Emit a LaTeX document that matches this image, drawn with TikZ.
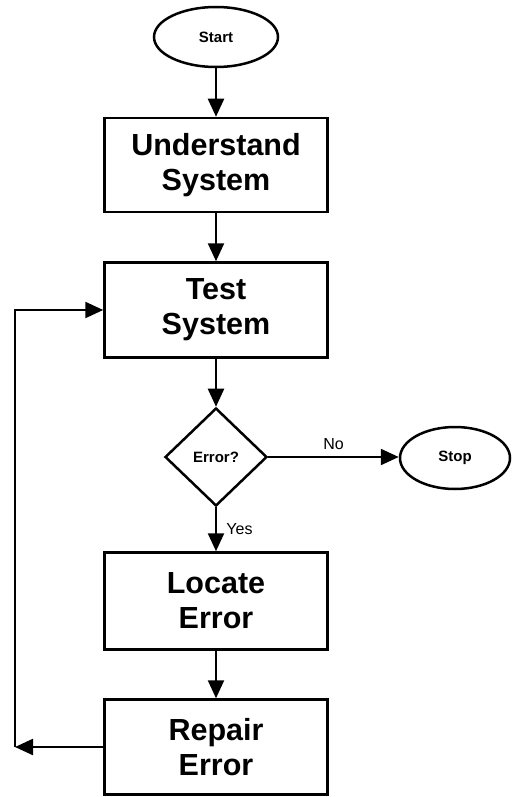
\documentclass[tikz,border=0pt]{standalone}
\usepackage{fontspec}
\setmainfont{Liberation Sans}
\usetikzlibrary{shapes.geometric,arrows.meta}
\begin{document}
\begin{tikzpicture}[x=1pt,y=-1pt,
  shapeline/.style={draw=black,line width=2.5pt},
  procbox/.style={shapeline,rectangle,minimum width=223pt,inner sep=0pt,align=center,
     font=\fontsize{30.5}{35}\selectfont\bfseries},
  terminal/.style={shapeline,ellipse,inner sep=0pt,font=\fontsize{15}{18}\selectfont\bfseries},
  decision/.style={shapeline,diamond,inner sep=0pt,minimum width=102pt,minimum height=98pt,
     font=\fontsize{15}{18}\selectfont\bfseries},
  conn/.style={draw=black,line width=2.3pt},
  arr/.style={conn,-{Triangle[length=18pt,width=16pt]}},
  lbl/.style={font=\fontsize{16}{19}\selectfont}
]
\useasboundingbox (0,0) rectangle (513,797);

\node[terminal,minimum width=124pt,minimum height=60pt] (start) at (216,37) {Start};
\node[procbox,minimum height=94pt] (understand) at (216,165) {Understand\\System};
\node[procbox,minimum height=95pt] (test) at (216,310) {Test\\System};
\node[decision] (err) at (216,457) {Error?};
\node[terminal,minimum width=110pt,minimum height=62pt] (stop) at (455,458) {Stop};
\node[procbox,minimum height=97pt] (locate) at (216,601) {Locate\\Error};
\node[procbox,minimum height=95pt] (repair) at (216,747) {Repair\\Error};

\coordinate (fbB) at (15,747);
\coordinate (fbT) at (15,310);

\draw[arr] (start) -- (understand);
\draw[arr] (understand) -- (test);
\draw[arr] (test) -- (err);
\draw[arr] (err.east) -- (err.east -| stop.west) node[lbl,midway,above=3pt] {No};
\draw[arr] (err.south) -- (locate.north) node[lbl,midway,right=6pt] {Yes};
\draw[arr] (locate) -- (repair);
\draw[arr] (repair.west) -- (fbB);
\draw[arr] (fbB) -- (fbT) -- (test.west);
\end{tikzpicture}
\end{document}
